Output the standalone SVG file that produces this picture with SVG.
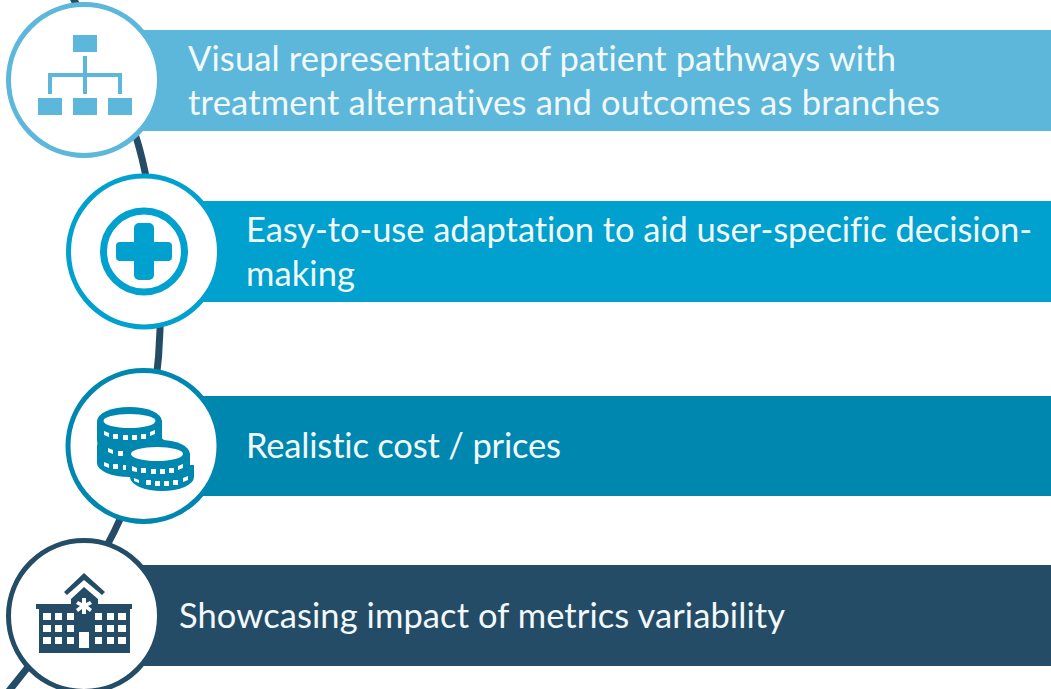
<svg xmlns="http://www.w3.org/2000/svg" width="1051" height="689" viewBox="0 0 1051 689">
<style>
text{font-family:"Lato","Open Sans",sans-serif;font-size:34.5px;fill:#f2f9fc;font-variant-ligatures:none}
.c{fill:#fff;stroke-width:5}
.a{fill:#5cb7da}.b{fill:#00a0cf}.d{fill:#0087b0}.e{fill:#244c66}
.sa{stroke:#5cb7da}.sb{stroke:#00a0cf}.sd{stroke:#0087b0}.se{stroke:#244c66}
</style>
<rect width="1051" height="689" fill="#fff"/>
<g id="connectors"><path d="M72,-4 C95,40 122,95 137,140 C152,190 161,270 160,330 C158,400 140,480 114,532 C90,580 55,635 8,692" fill="none" stroke="#244c66" stroke-width="7"/></g>
<g id="node1">
<rect class="a" x="120" y="30" width="931" height="101"/>
<circle class="c sa" cx="84" cy="80" r="75.500"/>
<g class="a"><rect x="73" y="35" width="24" height="17"/><rect x="38" y="98" width="24" height="17"/><rect x="73" y="98" width="24" height="17"/><rect x="108" y="98" width="24" height="17"/>
<path d="M83,56h4v17h35v21h-4v-17H87v17h-4V77H52v17h-4V73h35z"/></g>
<text x="188" y="71" textLength="708">Visual representation of patient pathways with</text>
<text x="188" y="115" textLength="752">treatment alternatives and outcomes as branches</text>
</g>
<g id="node2">
<rect class="b" x="180" y="201" width="871" height="101"/>
<circle class="c sb" cx="144" cy="251.500" r="75.500"/>
<circle cx="144" cy="251.500" r="40.500" fill="none" stroke="#00a0cf" stroke-width="7"/>
<path class="b" d="M139,223h10a5,5 0 0 1 5,5v14h14a4,4 0 0 1 4,4v11a4,4 0 0 1 -4,4h-14v14a5,5 0 0 1 -5,5h-10a5,5 0 0 1 -5,-5v-14h-14a4,4 0 0 1 -4,-4v-11a4,4 0 0 1 4,-4h14v-14a5,5 0 0 1 5,-5z"/>
<text x="246" y="242" textLength="786">Easy-to-use adaptation to aid user-specific decision-</text>
<text x="246" y="286" textLength="109">making</text>
</g>
<g id="node3">
<rect class="d" x="180" y="396" width="871" height="100"/>
<circle class="c sd" cx="143.500" cy="446" r="75.500"/>
<g class="d"><ellipse cx="129.500" cy="421" rx="32.500" ry="14"/><rect x="97" y="421" width="65" height="20"/><ellipse cx="129.500" cy="441" rx="32.500" ry="14"/>
<ellipse cx="132" cy="446" rx="35" ry="15"/>
<rect x="97" y="445" width="65" height="18"/><ellipse cx="129.500" cy="463" rx="32.500" ry="14"/>
<ellipse cx="160" cy="454" rx="30" ry="14"/><rect x="130" y="454" width="60" height="23"/><ellipse cx="162" cy="477" rx="32" ry="14"/><rect x="134" y="465" width="60" height="12"/></g>
<g fill="#fff"><ellipse cx="129.500" cy="421" rx="26" ry="7"/><ellipse cx="157" cy="454" rx="26" ry="7"/>
<path d="M104,431l5,2v4l-5,-2zM113,434h5v5h-5zM123,435h5v5h-5zM132,435h5v5h-5zM141,434h5v5h-5zM150,432l5,-2v4l-5,2zM108,448l5,2v4l-5,-2zM118,451h5v5h-5zM104,462l5,2v4l-5,-2zM113,464h5v5h-5zM123,465h3v5h-3zM132,466l5,2v4l-5,-1zM141,468h5v5h-5zM151,469h5v5h-5zM160,469h5v5h-5zM169,468h5v5h-5zM178,466l5,-2v4l-5,2zM134,478l5,2v3l-5,-2zM146,480h5v5h-5zM155,481h5v5h-5zM164,481h5v5h-5zM173,480h5v5h-5zM183,478l5,-2v4l-5,2z"/></g>
<text x="246" y="458" textLength="315">Realistic cost / prices</text>
</g>
<g id="node4">
<rect class="e" x="120" y="565" width="931" height="101"/>
<circle class="c se" cx="84" cy="616" r="75.500"/>
<path class="e" d="M64,592l20,-19l21,19l-3,3l-18,-15l-17,15zM36,604h35v-5l13,-12l14,12v5h34v5h-2v44H39v-44h-3z"/>
<g fill="#fff"><rect x="43" y="613" width="8" height="7"/><rect x="55" y="613" width="7" height="7"/><rect x="67" y="613" width="7" height="7"/><rect x="95" y="613" width="7" height="7"/><rect x="107" y="613" width="7" height="7"/><rect x="118" y="613" width="8" height="7"/>
<rect x="43" y="625" width="8" height="7"/><rect x="55" y="625" width="7" height="7"/><rect x="67" y="625" width="7" height="7"/><rect x="95" y="625" width="7" height="7"/><rect x="107" y="625" width="7" height="7"/><rect x="118" y="625" width="8" height="7"/>
<rect x="43" y="637" width="8" height="7"/><rect x="55" y="637" width="7" height="7"/><rect x="67" y="637" width="7" height="7"/><rect x="95" y="637" width="7" height="7"/><rect x="107" y="637" width="7" height="7"/><rect x="118" y="637" width="8" height="7"/>
<rect x="79" y="632" width="10" height="16"/>
<path d="M82,598h4v5l4,-2l2,3l-4,2l4,3l-2,3l-4,-3v5h-4v-5l-4,3l-2,-3l4,-3l-4,-2l2,-3l4,2z"/></g>
<text x="179" y="628" textLength="606">Showcasing impact of metrics variability</text>
</g>
</svg>
